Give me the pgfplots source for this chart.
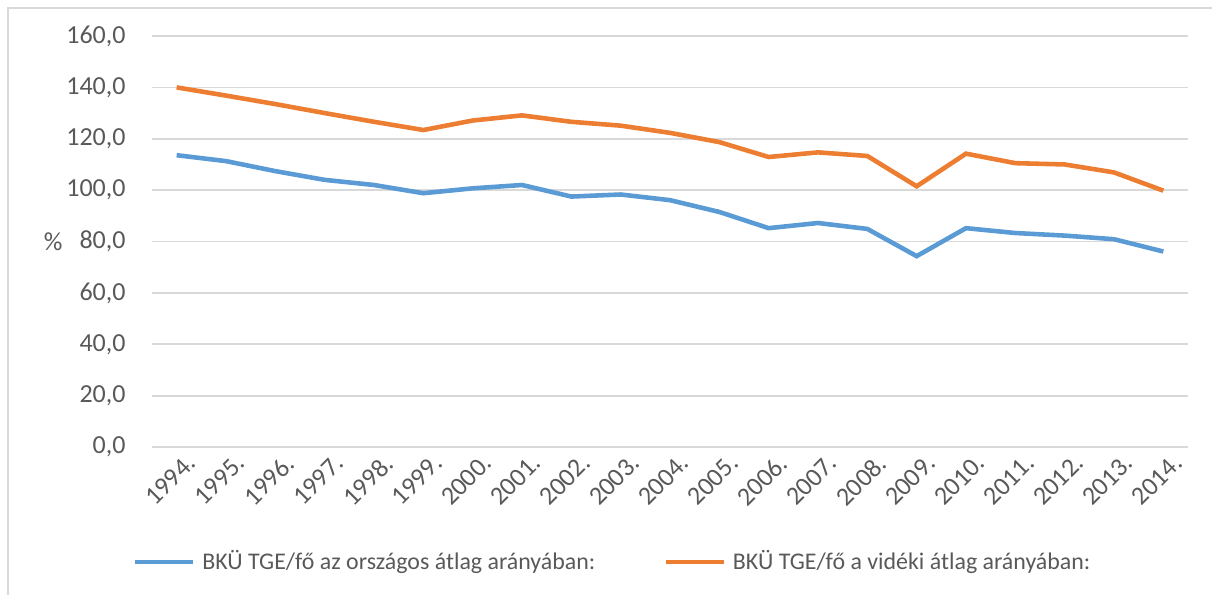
\documentclass[border=0pt]{standalone}
\usepackage{pgfplots}
\pgfplotsset{compat=1.18}
\usepackage{fontspec}
\setmainfont{Carlito}
\definecolor{sblue}{HTML}{5B9BD5}
\definecolor{sorange}{HTML}{ED7D31}
\definecolor{gridc}{HTML}{D9D9D9}
\definecolor{txt}{HTML}{595959}
\newcommand{\chartfont}{\fontsize{7.4}{9}\selectfont}
\newcommand{\legfont}{\fontsize{6.8}{8}\selectfont}

\begin{document}
\begin{tikzpicture}
\path[use as bounding box] (-1.52,-1.47) rectangle (10.60,4.47);
\draw[gridc, line width=0.5pt] (-1.44,-1.6) -- (-1.44,4.39) -- (10.7,4.39);
\begin{axis}[
  at={(0,0)}, anchor=south west,
  scale only axis, width=10.36cm, height=4.11cm,
  xmin=-0.5, xmax=20.5, ymin=0, ymax=160,
  ytick={0,20,...,160},
  xtick={0,...,20},
  xticklabels={1994.,1995.,1996.,1997.,1998.,1999.,2000.,2001.,2002.,2003.,2004.,2005.,2006.,2007.,2008.,2009.,2010.,2011.,2012.,2013.,2014.},
  axis line style={draw=none},
  major tick length=0pt,
  ymajorgrids, grid style={gridc, line width=0.5pt},
  /pgf/number format/assume math mode=true,
  yticklabel style={/pgf/number format/fixed, /pgf/number format/fixed zerofill,
    /pgf/number format/precision=1, /pgf/number format/use comma, xshift=-0.14cm},
  every tick label/.append style={font=\chartfont, text=txt},
  xticklabel style={rotate=45, anchor=north east, inner sep=1pt, xshift=0.06cm, yshift=-0.06cm},
  ylabel={\%},
  ylabel style={at={(axis description cs:-0.0955,0.5)}, rotate=-90, anchor=center, font=\chartfont, text=txt},
  legend style={at={(axis description cs:0.447,-0.28)}, anchor=center, draw=none, fill=none,
    font=\legfont, text=txt, legend columns=2,
    /tikz/every even column/.append style={column sep=0.61cm}},
  legend image code/.code={\draw[#1] (0cm,0cm) -- (0.58cm,0cm);},
]
  \addplot[sblue, line width=1.3pt] coordinates {
    (0,113.6) (1,111.3) (2,107.4) (3,104.0) (4,102.0) (5,98.8) (6,100.7)
    (7,102.0) (8,97.5) (9,98.3) (10,96.1) (11,91.5) (12,85.2) (13,87.2)
    (14,84.9) (15,74.3) (16,85.2) (17,83.3) (18,82.3) (19,80.9) (20,76.1)};
  \addplot[sorange, line width=1.3pt] coordinates {
    (0,140.0) (1,136.8) (2,133.5) (3,130.0) (4,126.6) (5,123.4) (6,127.1)
    (7,129.1) (8,126.6) (9,125.1) (10,122.3) (11,118.7) (12,112.9) (13,114.7)
    (14,113.3) (15,101.5) (16,114.2) (17,110.5) (18,110.0) (19,106.9) (20,99.8)};
  \legend{BKÜ TGE/fő az országos átlag arányában:, BKÜ TGE/fő a vidéki átlag arányában:}
\end{axis}
\end{tikzpicture}
\end{document}
